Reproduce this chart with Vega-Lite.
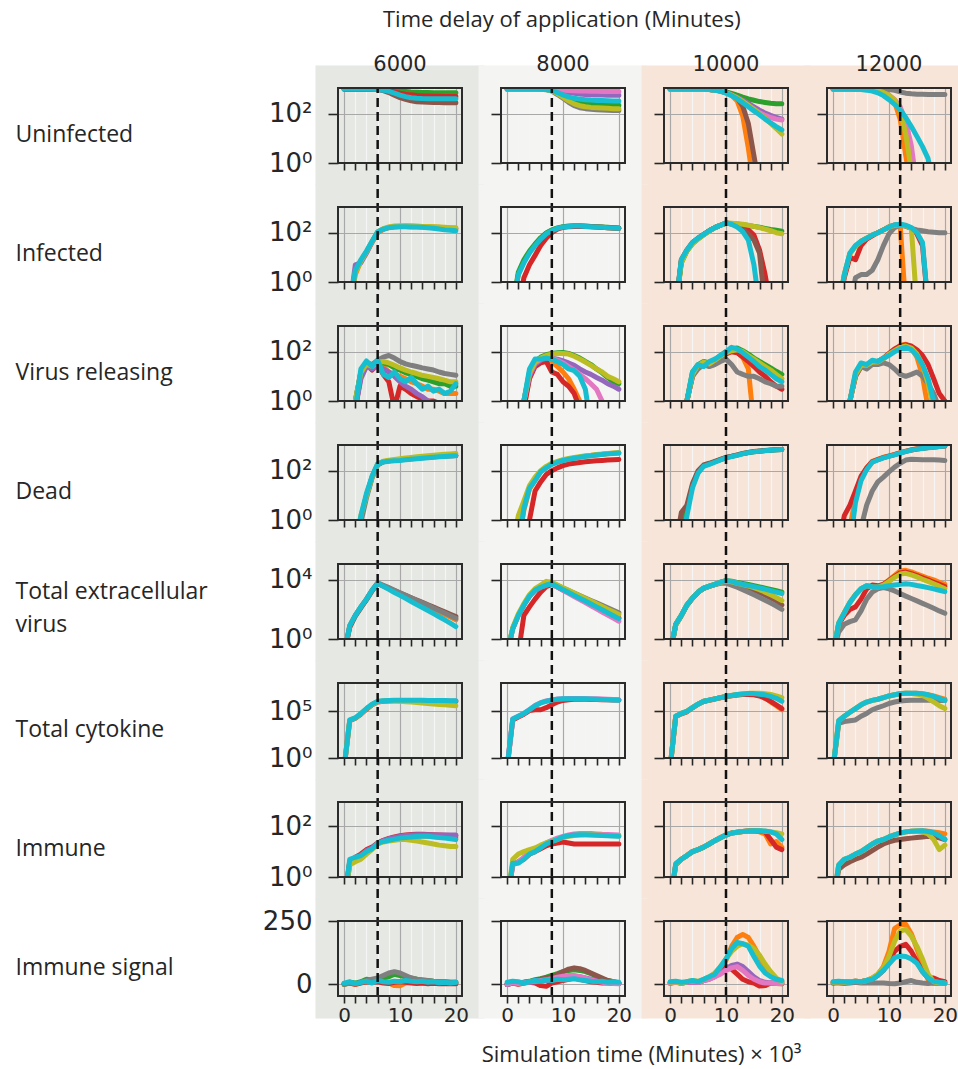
{
"$schema": "https://vega.github.io/schema/vega-lite/v6.json",
"background": "white",
"padding": {"left": -8, "top": 9, "right": 0, "bottom": 0},
"title": {"text": "Time delay of application (Minutes)", "anchor": "start", "dx": 45, "font": "Open Sans", "fontSize": 22, "offset": -1},
"datasets": {
"grid": [{"k": 1, "t": [0,1,2,3,4,5,6,7,8,9,10,11,12,13,14,15,16,17,18,19,20]}],
"runs": [
{"p":"U6","s":2,"k":1,"v":[1000,1000,1000,1000,1000,995,985,960,920,870,830,790,760,740,725,715,710,705,700,700,700]},
{"p":"U6","s":3,"k":1,"v":[1000,1000,1000,1000,995,990,970,920,850,760,680,620,580,550,530,520,510,505,500,500,500]},
{"p":"U6","s":5,"k":1,"v":[1000,1000,1000,1000,995,985,950,860,720,560,450,380,330,305,295,290,285,285,280,280,280]},
{"p":"U6","s":9,"k":1,"v":[1000,1000,1000,1000,995,985,960,900,800,680,570,490,440,420,410,405,400,400,400,400,400]},
{"p":"U8","s":2,"k":1,"v":[1000,1000,1000,1000,1000,995,985,960,880,720,560,440,350,300,270,250,240,230,225,220,220]},
{"p":"U8","s":4,"k":1,"v":[1000,1000,1000,1000,1000,1000,995,985,950,880,800,730,670,630,600,585,575,570,565,560,560]},
{"p":"U8","s":6,"k":1,"v":[1000,1000,1000,1000,1000,1000,1000,995,980,950,910,880,860,840,825,815,805,800,795,790,790]},
{"p":"U8","s":7,"k":1,"v":[1000,1000,1000,1000,1000,995,980,940,820,600,420,290,210,175,160,150,145,140,138,135,135]},
{"p":"U8","s":8,"k":1,"v":[1000,1000,1000,1000,1000,995,980,950,850,650,470,330,250,210,190,180,175,170,165,160,160]},
{"p":"U8","s":9,"k":1,"v":[1000,1000,1000,1000,1000,995,985,955,870,720,580,480,420,390,370,355,345,340,335,330,330]},
{"p":"U10","s":1,"k":1,"v":[1000,1000,1000,1000,1000,995,985,960,910,830,720,560,330,80,4,0.1,0.1,0.1,0.1,0.1,0.1]},
{"p":"U10","s":2,"k":1,"v":[1000,1000,1000,1000,1000,995,985,965,920,850,760,660,560,470,400,350,310,285,265,255,250]},
{"p":"U10","s":4,"k":1,"v":[1000,1000,1000,1000,1000,995,985,960,910,830,720,590,460,350,260,190,140,105,85,70,60]},
{"p":"U10","s":5,"k":1,"v":[1000,1000,1000,1000,1000,995,985,960,915,840,740,600,420,200,40,2,0.1,0.1,0.1,0.1,0.1]},
{"p":"U10","s":6,"k":1,"v":[1000,1000,1000,1000,1000,995,985,960,905,820,700,560,420,300,210,150,110,85,70,60,55]},
{"p":"U10","s":8,"k":1,"v":[1000,1000,1000,1000,1000,995,985,960,910,830,720,580,440,320,220,150,100,65,40,25,15]},
{"p":"U10","s":9,"k":1,"v":[1000,1000,1000,1000,1000,995,985,955,900,810,690,540,400,280,190,130,90,60,42,30,22]},
{"p":"U12","s":1,"k":1,"v":[1000,1000,1000,1000,1000,990,970,930,860,750,560,300,60,2,0.1,0.1,0.1,0.1,0.1,0.1,0.1]},
{"p":"U12","s":3,"k":1,"v":[1000,1000,1000,1000,995,985,960,910,830,700,520,330,150,30,2,0.1,0.1,0.1,0.1,0.1,0.1]},
{"p":"U12","s":6,"k":1,"v":[1000,1000,1000,1000,995,985,960,910,840,720,560,380,190,50,5,0.1,0.1,0.1,0.1,0.1,0.1]},
{"p":"U12","s":7,"k":1,"v":[1000,1000,1000,1000,1000,1000,1000,995,990,980,950,880,760,680,640,620,610,605,600,600,600]},
{"p":"U12","s":8,"k":1,"v":[1000,1000,1000,1000,1000,990,965,920,850,730,560,360,140,15,0.5,0.1,0.1,0.1,0.1,0.1,0.1]},
{"p":"U12","s":9,"k":1,"v":[1000,1000,1000,1000,990,960,900,820,700,540,370,240,145,70,30,12,4.6,1.5,0.1,0.1,0.1]},
{"p":"I6","s":1,"k":1,"v":[0.1,0.1,2,7,16,40,100,135,160,175,180,185,185,180,180,175,170,165,160,155,150]},
{"p":"I6","s":4,"k":1,"v":[0.1,0.1,5,6,15,42,105,140,165,175,180,178,175,172,170,165,160,155,150,145,140]},
{"p":"I6","s":8,"k":1,"v":[0.1,0.1,2.5,7,17,44,108,145,170,185,190,190,188,185,180,178,175,170,165,160,160]},
{"p":"I6","s":9,"k":1,"v":[0.1,0.1,3,8,18,45,110,140,160,170,175,175,170,170,165,160,150,140,130,125,120]},
{"p":"I8","s":1,"k":1,"v":[0.1,0.1,2,7,16,32,60,95,125,150,170,180,185,185,182,178,172,166,160,155,150]},
{"p":"I8","s":2,"k":1,"v":[0.1,0.1,2.5,8,18,35,62,98,130,155,175,185,190,190,186,180,175,170,165,160,155]},
{"p":"I8","s":3,"k":1,"v":[0.1,0.1,0.1,1.5,5,12,30,60,100,140,165,175,180,180,178,175,170,165,160,155,150]},
{"p":"I8","s":9,"k":1,"v":[0.1,0.1,2,6,15,30,55,90,120,150,170,180,185,185,180,175,170,165,160,155,150]},
{"p":"I10","s":2,"k":1,"v":[0.1,0.1,6,18,36,56,82,118,160,200,240,235,225,210,195,180,165,150,135,125,115]},
{"p":"I10","s":3,"k":1,"v":[0.1,0.1,7,19,38,58,84,120,160,200,245,230,200,170,130,80,20,2,0.1,0.1,0.1]},
{"p":"I10","s":5,"k":1,"v":[0.1,0.1,8,20,40,60,85,120,160,200,245,225,180,140,90,50,15,0.1,0.1,0.1,0.1]},
{"p":"I10","s":8,"k":1,"v":[0.1,0.1,6,18,35,55,80,115,160,200,240,240,230,220,200,180,160,140,120,100,90]},
{"p":"I10","s":9,"k":1,"v":[0.1,0.1,8,20,40,60,85,120,160,200,250,220,170,110,50,5,0.1,0.1,0.1,0.1,0.1]},
{"p":"I12","s":1,"k":1,"v":[0.1,0.1,2,14,28,45,60,80,100,130,170,200,200,0.1,0.1,0.1,0.1,0.1,0.1,0.1,0.1]},
{"p":"I12","s":3,"k":1,"v":[0.1,0.1,1.5,10,8,30,55,75,100,130,170,200,210,190,150,90,30,0.1,0.1,0.1,0.1]},
{"p":"I12","s":7,"k":1,"v":[0.1,0.1,0.1,0.1,1.5,2,2,3,8,30,90,160,200,180,150,130,120,110,105,100,100]},
{"p":"I12","s":8,"k":1,"v":[0.1,0.1,2,14,28,44,60,80,100,130,170,200,210,190,150,0.1,0.1,0.1,0.1,0.1,0.1]},
{"p":"I12","s":9,"k":1,"v":[0.1,0.1,2,15,30,45,60,80,100,130,170,210,220,200,160,100,40,0.1,0.1,0.1,0.1]},
{"p":"V6","s":1,"k":1,"v":[0.1,0.1,0.5,12,30,20,35,25,15,12,10,8,6,5,4,3,3,2.5,2,2,2]},
{"p":"V6","s":2,"k":1,"v":[0.1,0.1,1,15,38,28,40,35,30,22,18,14,12,10,8,7,6,5,5,4,4]},
{"p":"V6","s":3,"k":1,"v":[0.1,0.1,0.5,10,30,18,30,12,6,0.5,4,3,2,1.5,1.2,1,1,0.8,0.5,0.5,0.5]},
{"p":"V6","s":4,"k":1,"v":[0.1,0.1,0.5,8,25,20,25,20,15,10,6,4,3,2,1.5,1,0.8,0.5,0.5,0.5,0.5]},
{"p":"V6","s":7,"k":1,"v":[0.1,0.1,1,15,35,30,45,60,70,55,40,32,28,25,22,20,18,15,13,12,11]},
{"p":"V6","s":8,"k":1,"v":[0.1,0.1,1,14,32,25,38,40,35,28,22,18,15,13,11,10,9,8,7,6,6]},
{"p":"V6","s":9,"k":1,"v":[0.1,0.1,0.5,20,42,25,45,12,9,15,8,6,9,5,3,4,2.5,3,2,2.5,5]},
{"p":"V8","s":1,"k":1,"v":[0.1,0.1,0.1,0.5,10,30,45,50,40,25,15,8,3,1,0.3,0.1,0.1,0.1,0.1,0.1,0.1]},
{"p":"V8","s":2,"k":1,"v":[0.1,0.1,0.1,1,15,40,60,75,85,90,93,85,70,55,40,30,20,14,9,6,5]},
{"p":"V8","s":3,"k":1,"v":[0.1,0.1,0.1,0.5,8,25,35,40,15,12,6,4,2,0.5,0.1,0.1,0.1,0.1,0.1,0.1,0.1]},
{"p":"V8","s":4,"k":1,"v":[0.1,0.1,0.1,1,10,30,45,55,55,50,42,35,28,20,15,12,9,7,5,4,3]},
{"p":"V8","s":6,"k":1,"v":[0.1,0.1,0.1,1,12,35,50,60,55,45,35,25,18,12,8,5,3,1,0.3,0.1,0.1]},
{"p":"V8","s":8,"k":1,"v":[0.1,0.1,0.1,1,14,38,55,70,80,85,85,80,65,50,38,28,20,15,10,8,6]},
{"p":"V8","s":9,"k":1,"v":[0.1,0.1,0.1,1,20,50,50,55,50,40,30,20,17,10,3,0.1,0.1,0.1,0.1,0.1,0.1]},
{"p":"V10","s":1,"k":1,"v":[0.1,0.1,0.1,1,12,25,35,30,40,60,90,120,100,60,20,0.1,0.1,0.1,0.1,0.1,0.1]},
{"p":"V10","s":2,"k":1,"v":[0.1,0.1,0.1,1,15,30,40,35,45,70,100,130,140,110,80,55,40,30,22,16,12]},
{"p":"V10","s":3,"k":1,"v":[0.1,0.1,0.1,1,10,25,30,28,35,55,80,100,90,60,40,25,15,10,6,4,3]},
{"p":"V10","s":7,"k":1,"v":[0.1,0.1,0.1,1,10,20,30,25,30,40,50,30,15,12,10,10,8,6,5,4,4]},
{"p":"V10","s":8,"k":1,"v":[0.1,0.1,0.1,1,12,28,38,32,45,65,90,110,120,100,70,50,35,25,18,12,8]},
{"p":"V10","s":9,"k":1,"v":[0.1,0.1,0.1,1,15,30,25,40,50,70,100,150,130,90,60,40,25,18,12,8,6]},
{"p":"V12","s":1,"k":1,"v":[0.1,0.1,0.1,1,12,30,25,40,35,50,80,120,180,200,150,60,10,0.5,0.1,0.1,0.1]},
{"p":"V12","s":3,"k":1,"v":[0.1,0.1,0.1,1,10,25,30,35,40,55,85,130,170,190,170,120,70,30,8,2,1]},
{"p":"V12","s":7,"k":1,"v":[0.1,0.1,0.1,1,10,25,20,30,30,35,30,20,12,10,12,15,10,5,2,0.5,0.1]},
{"p":"V12","s":8,"k":1,"v":[0.1,0.1,0.1,1,12,28,28,38,38,52,80,110,150,170,140,80,30,5,0.5,0.1,0.1]},
{"p":"V12","s":9,"k":1,"v":[0.1,0.1,0.1,1,15,35,30,45,40,55,70,100,130,150,120,70,30,8,1,0.1,0.1]},
{"p":"D6","s":3,"k":1,"v":[0.1,0.1,0.1,1.2,10,55,180,230,250,262,275,290,305,320,335,350,365,378,390,400,410]},
{"p":"D6","s":7,"k":1,"v":[0.1,0.1,0.1,0.8,8,50,170,230,250,265,280,295,310,325,340,355,370,385,395,405,415]},
{"p":"D6","s":8,"k":1,"v":[0.1,0.1,0.1,1.5,10,55,185,240,265,285,305,325,345,365,385,405,425,445,465,480,500]},
{"p":"D6","s":9,"k":1,"v":[0.1,0.1,0.1,1.5,12,60,190,225,240,250,260,275,290,305,320,335,350,365,380,390,400]},
{"p":"D8","s":1,"k":1,"v":[0.1,0.1,0.1,2.5,18,40,90,135,185,225,265,295,325,355,385,410,435,460,485,505,525]},
{"p":"D8","s":3,"k":1,"v":[0.1,0.1,0.1,0.1,1,15,35,70,100,130,160,185,200,215,230,240,250,260,270,280,285]},
{"p":"D8","s":8,"k":1,"v":[0.1,0.1,1.5,6,25,55,100,150,200,240,280,310,340,370,400,420,450,470,500,520,540]},
{"p":"D8","s":9,"k":1,"v":[0.1,0.1,0.1,3,20,40,90,130,180,220,260,290,320,350,380,400,430,450,480,500,520]},
{"p":"D10","s":2,"k":1,"v":[0.1,0.1,0.5,3,25,90,160,190,230,280,340,380,430,490,545,590,620,650,680,705,725]},
{"p":"D10","s":5,"k":1,"v":[0.1,0.1,2,4,30,100,170,200,240,290,350,390,440,500,550,600,630,660,690,710,730]},
{"p":"D10","s":9,"k":1,"v":[0.1,0.1,0.1,1.5,20,80,150,180,220,270,330,370,420,480,540,580,610,640,670,700,720]},
{"p":"D12","s":1,"k":1,"v":[0.1,0.1,0.1,0.5,8,50,130,240,290,350,400,460,540,620,700,770,820,870,920,960,1000]},
{"p":"D12","s":3,"k":1,"v":[0.1,0.1,1.5,4,15,60,130,230,280,340,390,450,530,610,690,760,810,860,910,950,990]},
{"p":"D12","s":7,"k":1,"v":[0.1,0.1,0.1,0.1,0.1,0.5,4,15,35,55,90,140,200,270,290,285,280,280,280,270,260]},
{"p":"D12","s":9,"k":1,"v":[0.1,0.1,0.1,0.1,5,40,110,220,270,330,380,440,520,600,680,750,800,850,900,950,1000]},
{"p":"E6","s":1,"k":1,"v":[0.1,7,38,140,480,1900,5800,4000,2700,1800,1200,800,540,360,240,160,105,70,47,31,20]},
{"p":"E6","s":5,"k":1,"v":[0.1,6,35,130,450,1800,5500,3900,2700,1900,1300,900,620,430,300,210,145,100,70,48,33]},
{"p":"E6","s":7,"k":1,"v":[0.1,8,40,150,500,2000,6500,4400,3000,2000,1350,910,610,410,280,190,125,85,57,38,25]},
{"p":"E6","s":9,"k":1,"v":[0.1,8,40,150,500,2000,6000,3700,2300,1400,900,560,350,215,135,85,52,32,20,12,7]},
{"p":"E8","s":3,"k":1,"v":[0.1,0.1,0.1,40,150,500,1500,3500,5000,3300,2100,1350,870,560,360,230,150,95,62,40,26]},
{"p":"E8","s":6,"k":1,"v":[0.1,5,40,200,800,2000,3200,4500,5400,3300,2000,1250,760,470,290,180,110,68,42,26,16]},
{"p":"E8","s":7,"k":1,"v":[0.1,5,40,200,800,2000,3300,4700,6000,4100,2800,1900,1300,880,600,410,280,190,130,88,60]},
{"p":"E8","s":8,"k":1,"v":[0.1,6,50,250,1000,2600,4500,8000,7000,4600,3000,2000,1300,860,560,370,240,160,105,70,45]},
{"p":"E8","s":9,"k":1,"v":[0.1,5,40,200,800,2000,3200,4500,5500,3500,2200,1400,900,580,370,235,150,95,60,38,24]},
{"p":"E10","s":2,"k":1,"v":[0.1,10,40,200,600,1500,2800,3800,5000,7000,9000,8200,6800,5800,4900,4100,3400,2800,2300,1900,1500]},
{"p":"E10","s":5,"k":1,"v":[0.1,9,38,190,580,1450,2700,3700,4800,6500,8000,6500,5000,3800,2800,2000,1400,950,600,380,200]},
{"p":"E10","s":7,"k":1,"v":[0.1,9,38,190,580,1450,2700,3700,4800,6000,6000,4500,3200,2200,1500,1000,650,420,270,170,100]},
{"p":"E10","s":8,"k":1,"v":[0.1,9,40,200,600,1500,2800,3800,5000,6800,8500,7500,6000,4800,3800,3000,2200,1500,1000,650,400]},
{"p":"E10","s":9,"k":1,"v":[0.1,10,40,200,600,1500,2800,3800,5000,7000,9000,8000,6000,5000,4200,3500,2900,2400,1900,1500,1200]},
{"p":"E12","s":1,"k":1,"v":[0.1,12,60,300,1000,2500,4000,3500,3500,5000,10000,20000,40000,45000,35000,25000,18000,13000,10000,7000,5000]},
{"p":"E12","s":3,"k":1,"v":[0.1,10,40,100,150,500,2500,4500,4000,5000,9000,17000,30000,34000,27000,20000,14000,10000,7000,5000,3500]},
{"p":"E12","s":7,"k":1,"v":[0.1,3,10,15,20,80,500,1500,2500,3000,2500,1800,1200,800,550,380,260,180,120,80,55]},
{"p":"E12","s":8,"k":1,"v":[0.1,12,60,300,1000,2500,4000,3500,3300,4500,8000,15000,25000,28000,22000,16000,11000,8000,5500,3800,2500]},
{"p":"E12","s":9,"k":1,"v":[0.1,12,60,300,1000,2500,4000,3500,3300,3500,4000,4500,5000,5500,5000,4200,3600,3000,2500,2000,1600]},
{"p":"C6","s":3,"k":1,"v":[0.1,1e4,1.8e4,5e4,1.7e5,5e5,1e6,1.2e6,1.3e6,1.4e6,1.4e6,1.4e6,1.4e6,1.4e6,1.4e6,1.35e6,1.3e6,1.3e6,1.25e6,1.2e6,1.2e6]},
{"p":"C6","s":8,"k":1,"v":[0.1,1.1e4,2e4,5.5e4,1.9e5,5.5e5,1.1e6,1.3e6,1.3e6,1.3e6,1.2e6,1.1e6,1e6,9e5,8e5,7e5,6e5,5.5e5,5e5,4.5e5,4e5]},
{"p":"C6","s":9,"k":1,"v":[0.1,1.2e4,2e4,6e4,2e5,6e5,1.2e6,1.4e6,1.5e6,1.6e6,1.6e6,1.6e6,1.6e6,1.6e6,1.55e6,1.5e6,1.5e6,1.45e6,1.45e6,1.4e6,1.4e6]},
{"p":"C8","s":3,"k":1,"v":[0.1,1.2e4,2.5e4,5e4,1.2e5,1.5e5,1.5e5,2.5e5,5e5,1e6,1.5e6,1.8e6,2e6,2e6,2e6,1.9e6,1.9e6,1.8e6,1.8e6,1.7e6,1.7e6]},
{"p":"C8","s":6,"k":1,"v":[0.1,1.5e4,3e4,6e4,1.6e5,4.2e5,8.5e5,1.3e6,1.7e6,2.1e6,2.3e6,2.4e6,2.4e6,2.4e6,2.3e6,2.3e6,2.2e6,2.1e6,2e6,1.9e6,1.8e6]},
{"p":"C8","s":9,"k":1,"v":[0.1,1.5e4,3e4,6e4,1.5e5,4e5,8e5,1.2e6,1.6e6,2e6,2.2e6,2.3e6,2.3e6,2.3e6,2.2e6,2.1e6,2e6,1.9e6,1.8e6,1.7e6,1.6e6]},
{"p":"C10","s":1,"k":1,"v":[0.1,3e4,6e4,1e5,2.5e5,6e5,1.2e6,1.6e6,2.2e6,3e6,4e6,5e6,6e6,7e6,7e6,6.5e6,5e6,3e6,1e6,4e5,1.5e5]},
{"p":"C10","s":3,"k":1,"v":[0.1,2.8e4,5.5e4,9e4,2.4e5,5.8e5,1.15e6,1.55e6,2.1e6,2.9e6,3.8e6,4.8e6,5.8e6,6.5e6,6.5e6,6e6,4.5e6,2.5e6,1.2e6,5e5,2e5]},
{"p":"C10","s":8,"k":1,"v":[0.1,3e4,6e4,1e5,2.5e5,6e5,1.2e6,1.6e6,2.2e6,3e6,4e6,5e6,6.5e6,7.5e6,8.5e6,9e6,9e6,8e6,6.5e6,4.5e6,3e6]},
{"p":"C10","s":9,"k":1,"v":[0.1,3e4,6e4,1e5,2.5e5,6e5,1.2e6,1.6e6,2.2e6,3e6,4e6,5e6,6.5e6,7.5e6,8e6,8e6,7e6,6e6,4e6,2.5e6,1.2e6]},
{"p":"C12","s":1,"k":1,"v":[0.1,1e4,3e4,8e4,2e5,5e5,1e6,1.5e6,2e6,3e6,4.5e6,6e6,8e6,9e6,9e6,8.5e6,7.5e6,6e6,4.5e6,3e6,2e6]},
{"p":"C12","s":7,"k":1,"v":[0.1,5e3,8e3,1e4,1.2e4,3e4,6e4,1.5e5,2.5e5,4e5,7e5,1e6,1.3e6,1.5e6,1.6e6,1.6e6,1.6e6,1.6e6,1.6e6,1.5e6,1.5e6]},
{"p":"C12","s":8,"k":1,"v":[0.1,1e4,3e4,8e4,2e5,5e5,1e6,1.5e6,2e6,3e6,4.5e6,6e6,8e6,8.5e6,8e6,7e6,5e6,2.5e6,1e6,4e5,2e5]},
{"p":"C12","s":9,"k":1,"v":[0.1,1e4,3e4,8e4,2e5,5e5,1e6,1.5e6,2e6,3e6,4.5e6,6e6,8e6,9e6,9e6,9e6,8e6,6e6,4e6,2.5e6,1.5e6]},
{"p":"M6","s":1,"k":1,"v":[0.1,4,5,7,10,13,20,26,30,34,37,39,40,41,41,40,39,38,37,36,35]},
{"p":"M6","s":3,"k":1,"v":[0.1,4,6,8,12,15,22,28,33,38,42,45,47,48,48,47,46,45,44,43,42]},
{"p":"M6","s":4,"k":1,"v":[0.1,3,5,7,11,14,21,27,32,36,40,43,45,46,46,46,45,45,45,45,45]},
{"p":"M6","s":8,"k":1,"v":[0.1,3,4,5,8,12,20,24,26,28,30,30,28,26,24,22,20,18,17,16,16]},
{"p":"M6","s":9,"k":1,"v":[0.1,5,6,7,10,13,21,25,28,31,34,36,38,39,40,40,38,36,34,32,30]},
{"p":"M8","s":3,"k":1,"v":[0.1,3,4,5,8,10,13,17,20,22,24,22,20,20,20,20,20,20,20,20,20]},
{"p":"M8","s":6,"k":1,"v":[0.1,3,4,6,9,12,16,22,28,34,40,45,50,52,52,52,50,48,47,46,45]},
{"p":"M8","s":8,"k":1,"v":[0.1,5,8,10,12,14,18,22,26,30,36,40,43,45,46,46,45,44,43,42,41]},
{"p":"M8","s":9,"k":1,"v":[0.1,3.5,3.5,5,8,10,14,20,25,30,38,42,45,46,46,45,44,43,42,41,40]},
{"p":"M10","s":1,"k":1,"v":[0.1,3,5,7,10,12,15,20,27,35,45,54,58,62,65,66,60,50,20,25,15]},
{"p":"M10","s":3,"k":1,"v":[0.1,3,5,7,10,12,15,20,27,35,45,54,58,62,65,66,65,60,30,15,12]},
{"p":"M10","s":8,"k":1,"v":[0.1,3,5,7,10,12,15,20,27,35,45,54,58,62,65,66,66,64,60,55,50]},
{"p":"M10","s":9,"k":1,"v":[0.1,3.4,5,7,10,12,15,20,27,35,45,54,58,62,65,66,66,65,60,50,30]},
{"p":"M12","s":1,"k":1,"v":[0.1,3,5,6,8,10,14,20,26,30,38,46,54,60,64,65,66,64,60,55,50]},
{"p":"M12","s":5,"k":1,"v":[0.1,2,3,4,5,6,8,11,15,20,24,28,30,32,34,36,38,40,38,35,30]},
{"p":"M12","s":8,"k":1,"v":[0.1,3,5,6,8,10,14,20,26,30,38,46,54,60,64,65,60,50,30,12,18]},
{"p":"M12","s":9,"k":1,"v":[0.1,3,5,6,8,10,14,20,26,30,38,46,54,60,64,65,66,62,55,42,30]},
{"p":"S6","s":1,"k":1,"v":[0,5,0,5,10,10,12,8,5,-5,-6,5,8,5,5,3,5,3,5,3,3]},
{"p":"S6","s":2,"k":1,"v":[0,8,5,10,20,15,20,25,30,40,35,30,25,20,15,15,12,10,10,8,8]},
{"p":"S6","s":3,"k":1,"v":[2,5,0,6,10,8,10,5,3,8,10,8,5,3,5,2,4,2,3,2,2]},
{"p":"S6","s":7,"k":1,"v":[0,5,2,8,15,20,25,35,45,50,45,35,25,20,18,15,12,10,10,8,8]},
{"p":"S6","s":9,"k":1,"v":[5,10,3,8,12,5,15,10,8,12,10,15,12,10,12,8,10,6,8,5,8]},
{"p":"S8","s":2,"k":1,"v":[0,8,5,8,12,18,22,28,35,42,50,55,58,55,50,42,32,22,15,10,6]},
{"p":"S8","s":3,"k":1,"v":[0,5,0,5,8,5,-5,-8,5,10,15,20,25,20,15,10,8,5,5,3,3]},
{"p":"S8","s":4,"k":1,"v":[0,5,3,6,8,10,12,15,20,25,28,30,32,30,25,20,15,10,8,5,3]},
{"p":"S8","s":5,"k":1,"v":[0,5,5,8,10,15,20,25,30,40,50,60,65,62,55,45,35,25,15,10,5]},
{"p":"S8","s":6,"k":1,"v":[0,6,3,6,9,12,15,18,22,28,32,35,35,30,25,18,12,8,5,3,2]},
{"p":"S8","s":9,"k":1,"v":[8,12,10,5,10,15,12,18,15,20,18,20,22,18,15,12,10,12,8,10,8]},
{"p":"S10","s":1,"k":1,"v":[8,10,5,8,12,10,18,25,35,60,95,150,185,197,185,150,110,70,40,20,10]},
{"p":"S10","s":3,"k":1,"v":[5,8,5,8,10,8,15,25,35,55,70,60,40,20,10,5,-7,-5,5,3,2]},
{"p":"S10","s":4,"k":1,"v":[5,8,5,8,10,8,15,20,30,45,60,75,80,70,50,30,15,8,5,5,5]},
{"p":"S10","s":6,"k":1,"v":[5,8,5,8,10,8,15,20,30,40,55,65,70,55,35,20,10,5,5,3,3]},
{"p":"S10","s":8,"k":1,"v":[8,10,5,10,15,12,20,30,45,70,100,130,150,160,155,140,115,80,50,25,10]},
{"p":"S10","s":9,"k":1,"v":[10,12,8,10,15,10,20,30,40,70,100,140,165,160,150,110,72,45,30,20,15]},
{"p":"S12","s":1,"k":1,"v":[8,10,8,10,12,10,15,25,40,70,130,220,235,237,200,140,80,20,5,5,5]},
{"p":"S12","s":3,"k":1,"v":[5,10,8,10,12,10,15,20,35,55,90,130,150,158,130,90,50,25,25,15,10]},
{"p":"S12","s":7,"k":1,"v":[5,5,3,5,8,5,5,5,5,5,3,2,5,10,15,8,5,3,5,3,3]},
{"p":"S12","s":8,"k":1,"v":[8,10,8,10,12,10,15,25,40,65,110,170,210,217,190,150,100,40,10,5,5]},
{"p":"S12","s":9,"k":1,"v":[10,12,10,8,12,10,15,20,35,55,80,105,112,110,100,83,50,25,12,8,5]}
]
},
"data": {"name": "runs"},
"transform": [
{"lookup": "k", "from": {"data": {"name": "grid"}, "key": "k", "fields": ["t"]}},
{"flatten": ["t", "v"]}
],
"columns": 4,
"spacing": {"row": 44, "column": 39},
"bounds": "flush",
"concat": [
{"title":"6000","width":124,"height":75,"view":{"fill":"#e6e8e3","stroke":"#e6e8e3"},"layer":[{"transform":[{"filter":"datum.p=='U6'"}],"mark":{"type":"line","clip":true},"encoding":{"x":{"field":"t","type":"quantitative","scale":{"domain":[-1.1,21.1],"nice":false},"axis":{"title":null,"gridColor":{"condition":{"test":"datum.value%10===0","value":"#a8a8a8"},"value":"#f5f5f5"}}},"y":{"field":"v","type":"quantitative","scale":{"type":"log","domain":[1,1100],"nice":false},"axis":{"values":[1,100],"labelExpr":"datum.value>1?'10²':'10⁰'","title":"Uninfected"}},"color":{"field":"s","type":"nominal","scale":{"domain":[0,1,2,3,4,5,6,7,8,9]}}}},{"data":{"values":[{}]},"mark":"rule","encoding":{"x":{"datum":6},"y":{"datum":1},"y2":{"datum":1100}}},{"data":{"values":[{}]},"mark":{"type":"rect","filled":false},"encoding":{"x":{"datum":-1.1},"x2":{"datum":21.1},"y":{"datum":1},"y2":{"datum":1100}}}]},
{"title":"8000","width":124,"height":75,"view":{"fill":"#f4f4f3","stroke":"#f4f4f3"},"layer":[{"transform":[{"filter":"datum.p=='U8'"}],"mark":{"type":"line","clip":true},"encoding":{"x":{"field":"t","type":"quantitative","scale":{"domain":[-1.1,21.1],"nice":false},"axis":{"title":null,"gridColor":{"condition":{"test":"datum.value%10===0","value":"#a8a8a8"},"value":"#f5f5f5"}}},"y":{"field":"v","type":"quantitative","scale":{"type":"log","domain":[1,1100],"nice":false},"axis":{"values":[1,100],"labels":false,"title":null}},"color":{"field":"s","type":"nominal","scale":{"domain":[0,1,2,3,4,5,6,7,8,9]}}}},{"data":{"values":[{}]},"mark":"rule","encoding":{"x":{"datum":8},"y":{"datum":1},"y2":{"datum":1100}}},{"data":{"values":[{}]},"mark":{"type":"rect","filled":false},"encoding":{"x":{"datum":-1.1},"x2":{"datum":21.1},"y":{"datum":1},"y2":{"datum":1100}}}]},
{"title":"10000","width":124,"height":75,"view":{"fill":"#f7e5d9","stroke":"#f7e5d9"},"layer":[{"transform":[{"filter":"datum.p=='U10'"}],"mark":{"type":"line","clip":true},"encoding":{"x":{"field":"t","type":"quantitative","scale":{"domain":[-1.1,21.1],"nice":false},"axis":{"title":null,"gridColor":{"condition":{"test":"datum.value%10===0","value":"#a8a8a8"},"value":"#f5f5f5"}}},"y":{"field":"v","type":"quantitative","scale":{"type":"log","domain":[1,1100],"nice":false},"axis":{"values":[1,100],"labels":false,"title":null}},"color":{"field":"s","type":"nominal","scale":{"domain":[0,1,2,3,4,5,6,7,8,9]}}}},{"data":{"values":[{}]},"mark":"rule","encoding":{"x":{"datum":10},"y":{"datum":1},"y2":{"datum":1100}}},{"data":{"values":[{}]},"mark":{"type":"rect","filled":false},"encoding":{"x":{"datum":-1.1},"x2":{"datum":21.1},"y":{"datum":1},"y2":{"datum":1100}}}]},
{"title":"12000","width":124,"height":75,"view":{"fill":"#f7e5d9","stroke":"#f7e5d9"},"layer":[{"transform":[{"filter":"datum.p=='U12'"}],"mark":{"type":"line","clip":true},"encoding":{"x":{"field":"t","type":"quantitative","scale":{"domain":[-1.1,21.1],"nice":false},"axis":{"title":null,"gridColor":{"condition":{"test":"datum.value%10===0","value":"#a8a8a8"},"value":"#f5f5f5"}}},"y":{"field":"v","type":"quantitative","scale":{"type":"log","domain":[1,1100],"nice":false},"axis":{"values":[1,100],"labels":false,"title":null}},"color":{"field":"s","type":"nominal","scale":{"domain":[0,1,2,3,4,5,6,7,8,9]}}}},{"data":{"values":[{}]},"mark":"rule","encoding":{"x":{"datum":12},"y":{"datum":1},"y2":{"datum":1100}}},{"data":{"values":[{}]},"mark":{"type":"rect","filled":false},"encoding":{"x":{"datum":-1.1},"x2":{"datum":21.1},"y":{"datum":1},"y2":{"datum":1100}}}]},
{"width":124,"height":75,"view":{"fill":"#e6e8e3","stroke":"#e6e8e3"},"layer":[{"transform":[{"filter":"datum.p=='I6'"}],"mark":{"type":"line","clip":true},"encoding":{"x":{"field":"t","type":"quantitative","scale":{"domain":[-1.1,21.1],"nice":false},"axis":{"title":null,"gridColor":{"condition":{"test":"datum.value%10===0","value":"#a8a8a8"},"value":"#f5f5f5"}}},"y":{"field":"v","type":"quantitative","scale":{"type":"log","domain":[1,1100],"nice":false},"axis":{"values":[1,100],"labelExpr":"datum.value>1?'10²':'10⁰'","title":"Infected"}},"color":{"field":"s","type":"nominal","scale":{"domain":[0,1,2,3,4,5,6,7,8,9]}}}},{"data":{"values":[{}]},"mark":"rule","encoding":{"x":{"datum":6},"y":{"datum":1},"y2":{"datum":7e4}}},{"data":{"values":[{}]},"mark":{"type":"rect","filled":false},"encoding":{"x":{"datum":-1.1},"x2":{"datum":21.1},"y":{"datum":1},"y2":{"datum":1100}}}]},
{"width":124,"height":75,"view":{"fill":"#f4f4f3","stroke":"#f4f4f3"},"layer":[{"transform":[{"filter":"datum.p=='I8'"}],"mark":{"type":"line","clip":true},"encoding":{"x":{"field":"t","type":"quantitative","scale":{"domain":[-1.1,21.1],"nice":false},"axis":{"title":null,"gridColor":{"condition":{"test":"datum.value%10===0","value":"#a8a8a8"},"value":"#f5f5f5"}}},"y":{"field":"v","type":"quantitative","scale":{"type":"log","domain":[1,1100],"nice":false},"axis":{"values":[1,100],"labels":false,"title":null}},"color":{"field":"s","type":"nominal","scale":{"domain":[0,1,2,3,4,5,6,7,8,9]}}}},{"data":{"values":[{}]},"mark":"rule","encoding":{"x":{"datum":8},"y":{"datum":1},"y2":{"datum":7e4}}},{"data":{"values":[{}]},"mark":{"type":"rect","filled":false},"encoding":{"x":{"datum":-1.1},"x2":{"datum":21.1},"y":{"datum":1},"y2":{"datum":1100}}}]},
{"width":124,"height":75,"view":{"fill":"#f7e5d9","stroke":"#f7e5d9"},"layer":[{"transform":[{"filter":"datum.p=='I10'"}],"mark":{"type":"line","clip":true},"encoding":{"x":{"field":"t","type":"quantitative","scale":{"domain":[-1.1,21.1],"nice":false},"axis":{"title":null,"gridColor":{"condition":{"test":"datum.value%10===0","value":"#a8a8a8"},"value":"#f5f5f5"}}},"y":{"field":"v","type":"quantitative","scale":{"type":"log","domain":[1,1100],"nice":false},"axis":{"values":[1,100],"labels":false,"title":null}},"color":{"field":"s","type":"nominal","scale":{"domain":[0,1,2,3,4,5,6,7,8,9]}}}},{"data":{"values":[{}]},"mark":"rule","encoding":{"x":{"datum":10},"y":{"datum":1},"y2":{"datum":7e4}}},{"data":{"values":[{}]},"mark":{"type":"rect","filled":false},"encoding":{"x":{"datum":-1.1},"x2":{"datum":21.1},"y":{"datum":1},"y2":{"datum":1100}}}]},
{"width":124,"height":75,"view":{"fill":"#f7e5d9","stroke":"#f7e5d9"},"layer":[{"transform":[{"filter":"datum.p=='I12'"}],"mark":{"type":"line","clip":true},"encoding":{"x":{"field":"t","type":"quantitative","scale":{"domain":[-1.1,21.1],"nice":false},"axis":{"title":null,"gridColor":{"condition":{"test":"datum.value%10===0","value":"#a8a8a8"},"value":"#f5f5f5"}}},"y":{"field":"v","type":"quantitative","scale":{"type":"log","domain":[1,1100],"nice":false},"axis":{"values":[1,100],"labels":false,"title":null}},"color":{"field":"s","type":"nominal","scale":{"domain":[0,1,2,3,4,5,6,7,8,9]}}}},{"data":{"values":[{}]},"mark":"rule","encoding":{"x":{"datum":12},"y":{"datum":1},"y2":{"datum":7e4}}},{"data":{"values":[{}]},"mark":{"type":"rect","filled":false},"encoding":{"x":{"datum":-1.1},"x2":{"datum":21.1},"y":{"datum":1},"y2":{"datum":1100}}}]},
{"width":124,"height":75,"view":{"fill":"#e6e8e3","stroke":"#e6e8e3"},"layer":[{"transform":[{"filter":"datum.p=='V6'"}],"mark":{"type":"line","clip":true},"encoding":{"x":{"field":"t","type":"quantitative","scale":{"domain":[-1.1,21.1],"nice":false},"axis":{"title":null,"gridColor":{"condition":{"test":"datum.value%10===0","value":"#a8a8a8"},"value":"#f5f5f5"}}},"y":{"field":"v","type":"quantitative","scale":{"type":"log","domain":[1,1100],"nice":false},"axis":{"values":[1,100],"labelExpr":"datum.value>1?'10²':'10⁰'","title":"Virus releasing"}},"color":{"field":"s","type":"nominal","scale":{"domain":[0,1,2,3,4,5,6,7,8,9]}}}},{"data":{"values":[{}]},"mark":"rule","encoding":{"x":{"datum":6},"y":{"datum":1},"y2":{"datum":7e4}}},{"data":{"values":[{}]},"mark":{"type":"rect","filled":false},"encoding":{"x":{"datum":-1.1},"x2":{"datum":21.1},"y":{"datum":1},"y2":{"datum":1100}}}]},
{"width":124,"height":75,"view":{"fill":"#f4f4f3","stroke":"#f4f4f3"},"layer":[{"transform":[{"filter":"datum.p=='V8'"}],"mark":{"type":"line","clip":true},"encoding":{"x":{"field":"t","type":"quantitative","scale":{"domain":[-1.1,21.1],"nice":false},"axis":{"title":null,"gridColor":{"condition":{"test":"datum.value%10===0","value":"#a8a8a8"},"value":"#f5f5f5"}}},"y":{"field":"v","type":"quantitative","scale":{"type":"log","domain":[1,1100],"nice":false},"axis":{"values":[1,100],"labels":false,"title":null}},"color":{"field":"s","type":"nominal","scale":{"domain":[0,1,2,3,4,5,6,7,8,9]}}}},{"data":{"values":[{}]},"mark":"rule","encoding":{"x":{"datum":8},"y":{"datum":1},"y2":{"datum":7e4}}},{"data":{"values":[{}]},"mark":{"type":"rect","filled":false},"encoding":{"x":{"datum":-1.1},"x2":{"datum":21.1},"y":{"datum":1},"y2":{"datum":1100}}}]},
{"width":124,"height":75,"view":{"fill":"#f7e5d9","stroke":"#f7e5d9"},"layer":[{"transform":[{"filter":"datum.p=='V10'"}],"mark":{"type":"line","clip":true},"encoding":{"x":{"field":"t","type":"quantitative","scale":{"domain":[-1.1,21.1],"nice":false},"axis":{"title":null,"gridColor":{"condition":{"test":"datum.value%10===0","value":"#a8a8a8"},"value":"#f5f5f5"}}},"y":{"field":"v","type":"quantitative","scale":{"type":"log","domain":[1,1100],"nice":false},"axis":{"values":[1,100],"labels":false,"title":null}},"color":{"field":"s","type":"nominal","scale":{"domain":[0,1,2,3,4,5,6,7,8,9]}}}},{"data":{"values":[{}]},"mark":"rule","encoding":{"x":{"datum":10},"y":{"datum":1},"y2":{"datum":7e4}}},{"data":{"values":[{}]},"mark":{"type":"rect","filled":false},"encoding":{"x":{"datum":-1.1},"x2":{"datum":21.1},"y":{"datum":1},"y2":{"datum":1100}}}]},
{"width":124,"height":75,"view":{"fill":"#f7e5d9","stroke":"#f7e5d9"},"layer":[{"transform":[{"filter":"datum.p=='V12'"}],"mark":{"type":"line","clip":true},"encoding":{"x":{"field":"t","type":"quantitative","scale":{"domain":[-1.1,21.1],"nice":false},"axis":{"title":null,"gridColor":{"condition":{"test":"datum.value%10===0","value":"#a8a8a8"},"value":"#f5f5f5"}}},"y":{"field":"v","type":"quantitative","scale":{"type":"log","domain":[1,1100],"nice":false},"axis":{"values":[1,100],"labels":false,"title":null}},"color":{"field":"s","type":"nominal","scale":{"domain":[0,1,2,3,4,5,6,7,8,9]}}}},{"data":{"values":[{}]},"mark":"rule","encoding":{"x":{"datum":12},"y":{"datum":1},"y2":{"datum":7e4}}},{"data":{"values":[{}]},"mark":{"type":"rect","filled":false},"encoding":{"x":{"datum":-1.1},"x2":{"datum":21.1},"y":{"datum":1},"y2":{"datum":1100}}}]},
{"width":124,"height":75,"view":{"fill":"#e6e8e3","stroke":"#e6e8e3"},"layer":[{"transform":[{"filter":"datum.p=='D6'"}],"mark":{"type":"line","clip":true},"encoding":{"x":{"field":"t","type":"quantitative","scale":{"domain":[-1.1,21.1],"nice":false},"axis":{"title":null,"gridColor":{"condition":{"test":"datum.value%10===0","value":"#a8a8a8"},"value":"#f5f5f5"}}},"y":{"field":"v","type":"quantitative","scale":{"type":"log","domain":[1,1100],"nice":false},"axis":{"values":[1,100],"labelExpr":"datum.value>1?'10²':'10⁰'","title":"Dead"}},"color":{"field":"s","type":"nominal","scale":{"domain":[0,1,2,3,4,5,6,7,8,9]}}}},{"data":{"values":[{}]},"mark":"rule","encoding":{"x":{"datum":6},"y":{"datum":1},"y2":{"datum":7e4}}},{"data":{"values":[{}]},"mark":{"type":"rect","filled":false},"encoding":{"x":{"datum":-1.1},"x2":{"datum":21.1},"y":{"datum":1},"y2":{"datum":1100}}}]},
{"width":124,"height":75,"view":{"fill":"#f4f4f3","stroke":"#f4f4f3"},"layer":[{"transform":[{"filter":"datum.p=='D8'"}],"mark":{"type":"line","clip":true},"encoding":{"x":{"field":"t","type":"quantitative","scale":{"domain":[-1.1,21.1],"nice":false},"axis":{"title":null,"gridColor":{"condition":{"test":"datum.value%10===0","value":"#a8a8a8"},"value":"#f5f5f5"}}},"y":{"field":"v","type":"quantitative","scale":{"type":"log","domain":[1,1100],"nice":false},"axis":{"values":[1,100],"labels":false,"title":null}},"color":{"field":"s","type":"nominal","scale":{"domain":[0,1,2,3,4,5,6,7,8,9]}}}},{"data":{"values":[{}]},"mark":"rule","encoding":{"x":{"datum":8},"y":{"datum":1},"y2":{"datum":7e4}}},{"data":{"values":[{}]},"mark":{"type":"rect","filled":false},"encoding":{"x":{"datum":-1.1},"x2":{"datum":21.1},"y":{"datum":1},"y2":{"datum":1100}}}]},
{"width":124,"height":75,"view":{"fill":"#f7e5d9","stroke":"#f7e5d9"},"layer":[{"transform":[{"filter":"datum.p=='D10'"}],"mark":{"type":"line","clip":true},"encoding":{"x":{"field":"t","type":"quantitative","scale":{"domain":[-1.1,21.1],"nice":false},"axis":{"title":null,"gridColor":{"condition":{"test":"datum.value%10===0","value":"#a8a8a8"},"value":"#f5f5f5"}}},"y":{"field":"v","type":"quantitative","scale":{"type":"log","domain":[1,1100],"nice":false},"axis":{"values":[1,100],"labels":false,"title":null}},"color":{"field":"s","type":"nominal","scale":{"domain":[0,1,2,3,4,5,6,7,8,9]}}}},{"data":{"values":[{}]},"mark":"rule","encoding":{"x":{"datum":10},"y":{"datum":1},"y2":{"datum":7e4}}},{"data":{"values":[{}]},"mark":{"type":"rect","filled":false},"encoding":{"x":{"datum":-1.1},"x2":{"datum":21.1},"y":{"datum":1},"y2":{"datum":1100}}}]},
{"width":124,"height":75,"view":{"fill":"#f7e5d9","stroke":"#f7e5d9"},"layer":[{"transform":[{"filter":"datum.p=='D12'"}],"mark":{"type":"line","clip":true},"encoding":{"x":{"field":"t","type":"quantitative","scale":{"domain":[-1.1,21.1],"nice":false},"axis":{"title":null,"gridColor":{"condition":{"test":"datum.value%10===0","value":"#a8a8a8"},"value":"#f5f5f5"}}},"y":{"field":"v","type":"quantitative","scale":{"type":"log","domain":[1,1100],"nice":false},"axis":{"values":[1,100],"labels":false,"title":null}},"color":{"field":"s","type":"nominal","scale":{"domain":[0,1,2,3,4,5,6,7,8,9]}}}},{"data":{"values":[{}]},"mark":"rule","encoding":{"x":{"datum":12},"y":{"datum":1},"y2":{"datum":7e4}}},{"data":{"values":[{}]},"mark":{"type":"rect","filled":false},"encoding":{"x":{"datum":-1.1},"x2":{"datum":21.1},"y":{"datum":1},"y2":{"datum":1100}}}]},
{"width":124,"height":75,"view":{"fill":"#e6e8e3","stroke":"#e6e8e3"},"layer":[{"transform":[{"filter":"datum.p=='E6'"}],"mark":{"type":"line","clip":true},"encoding":{"x":{"field":"t","type":"quantitative","scale":{"domain":[-1.1,21.1],"nice":false},"axis":{"title":null,"gridColor":{"condition":{"test":"datum.value%10===0","value":"#a8a8a8"},"value":"#f5f5f5"}}},"y":{"field":"v","type":"quantitative","scale":{"type":"log","domain":[1,1.2e5],"nice":false},"axis":{"values":[1,1e4],"labelExpr":"datum.value>1?'10⁴':'10⁰'","title":["Total extracellular","virus"],"titleY":27,"titleLineHeight":33}},"color":{"field":"s","type":"nominal","scale":{"domain":[0,1,2,3,4,5,6,7,8,9]}}}},{"data":{"values":[{}]},"mark":"rule","encoding":{"x":{"datum":6},"y":{"datum":1},"y2":{"datum":1.2e8}}},{"data":{"values":[{}]},"mark":{"type":"rect","filled":false},"encoding":{"x":{"datum":-1.1},"x2":{"datum":21.1},"y":{"datum":1},"y2":{"datum":1.2e5}}}]},
{"width":124,"height":75,"view":{"fill":"#f4f4f3","stroke":"#f4f4f3"},"layer":[{"transform":[{"filter":"datum.p=='E8'"}],"mark":{"type":"line","clip":true},"encoding":{"x":{"field":"t","type":"quantitative","scale":{"domain":[-1.1,21.1],"nice":false},"axis":{"title":null,"gridColor":{"condition":{"test":"datum.value%10===0","value":"#a8a8a8"},"value":"#f5f5f5"}}},"y":{"field":"v","type":"quantitative","scale":{"type":"log","domain":[1,1.2e5],"nice":false},"axis":{"values":[1,1e4],"labels":false,"title":null}},"color":{"field":"s","type":"nominal","scale":{"domain":[0,1,2,3,4,5,6,7,8,9]}}}},{"data":{"values":[{}]},"mark":"rule","encoding":{"x":{"datum":8},"y":{"datum":1},"y2":{"datum":1.2e8}}},{"data":{"values":[{}]},"mark":{"type":"rect","filled":false},"encoding":{"x":{"datum":-1.1},"x2":{"datum":21.1},"y":{"datum":1},"y2":{"datum":1.2e5}}}]},
{"width":124,"height":75,"view":{"fill":"#f7e5d9","stroke":"#f7e5d9"},"layer":[{"transform":[{"filter":"datum.p=='E10'"}],"mark":{"type":"line","clip":true},"encoding":{"x":{"field":"t","type":"quantitative","scale":{"domain":[-1.1,21.1],"nice":false},"axis":{"title":null,"gridColor":{"condition":{"test":"datum.value%10===0","value":"#a8a8a8"},"value":"#f5f5f5"}}},"y":{"field":"v","type":"quantitative","scale":{"type":"log","domain":[1,1.2e5],"nice":false},"axis":{"values":[1,1e4],"labels":false,"title":null}},"color":{"field":"s","type":"nominal","scale":{"domain":[0,1,2,3,4,5,6,7,8,9]}}}},{"data":{"values":[{}]},"mark":"rule","encoding":{"x":{"datum":10},"y":{"datum":1},"y2":{"datum":1.2e8}}},{"data":{"values":[{}]},"mark":{"type":"rect","filled":false},"encoding":{"x":{"datum":-1.1},"x2":{"datum":21.1},"y":{"datum":1},"y2":{"datum":1.2e5}}}]},
{"width":124,"height":75,"view":{"fill":"#f7e5d9","stroke":"#f7e5d9"},"layer":[{"transform":[{"filter":"datum.p=='E12'"}],"mark":{"type":"line","clip":true},"encoding":{"x":{"field":"t","type":"quantitative","scale":{"domain":[-1.1,21.1],"nice":false},"axis":{"title":null,"gridColor":{"condition":{"test":"datum.value%10===0","value":"#a8a8a8"},"value":"#f5f5f5"}}},"y":{"field":"v","type":"quantitative","scale":{"type":"log","domain":[1,1.2e5],"nice":false},"axis":{"values":[1,1e4],"labels":false,"title":null}},"color":{"field":"s","type":"nominal","scale":{"domain":[0,1,2,3,4,5,6,7,8,9]}}}},{"data":{"values":[{}]},"mark":"rule","encoding":{"x":{"datum":12},"y":{"datum":1},"y2":{"datum":1.2e8}}},{"data":{"values":[{}]},"mark":{"type":"rect","filled":false},"encoding":{"x":{"datum":-1.1},"x2":{"datum":21.1},"y":{"datum":1},"y2":{"datum":1.2e5}}}]},
{"width":124,"height":75,"view":{"fill":"#e6e8e3","stroke":"#e6e8e3"},"layer":[{"transform":[{"filter":"datum.p=='C6'"}],"mark":{"type":"line","clip":true},"encoding":{"x":{"field":"t","type":"quantitative","scale":{"domain":[-1.1,21.1],"nice":false},"axis":{"title":null,"gridColor":{"condition":{"test":"datum.value%10===0","value":"#a8a8a8"},"value":"#f5f5f5"}}},"y":{"field":"v","type":"quantitative","scale":{"type":"log","domain":[1,1.1e8],"nice":false},"axis":{"values":[1,1e5],"labelExpr":"datum.value>1?'10⁵':'10⁰'","title":"Total cytokine"}},"color":{"field":"s","type":"nominal","scale":{"domain":[0,1,2,3,4,5,6,7,8,9]}}}},{"data":{"values":[{}]},"mark":"rule","encoding":{"x":{"datum":6},"y":{"datum":1},"y2":{"datum":6e12}}},{"data":{"values":[{}]},"mark":{"type":"rect","filled":false},"encoding":{"x":{"datum":-1.1},"x2":{"datum":21.1},"y":{"datum":1},"y2":{"datum":1.1e8}}}]},
{"width":124,"height":75,"view":{"fill":"#f4f4f3","stroke":"#f4f4f3"},"layer":[{"transform":[{"filter":"datum.p=='C8'"}],"mark":{"type":"line","clip":true},"encoding":{"x":{"field":"t","type":"quantitative","scale":{"domain":[-1.1,21.1],"nice":false},"axis":{"title":null,"gridColor":{"condition":{"test":"datum.value%10===0","value":"#a8a8a8"},"value":"#f5f5f5"}}},"y":{"field":"v","type":"quantitative","scale":{"type":"log","domain":[1,1.1e8],"nice":false},"axis":{"values":[1,1e5],"labels":false,"title":null}},"color":{"field":"s","type":"nominal","scale":{"domain":[0,1,2,3,4,5,6,7,8,9]}}}},{"data":{"values":[{}]},"mark":"rule","encoding":{"x":{"datum":8},"y":{"datum":1},"y2":{"datum":6e12}}},{"data":{"values":[{}]},"mark":{"type":"rect","filled":false},"encoding":{"x":{"datum":-1.1},"x2":{"datum":21.1},"y":{"datum":1},"y2":{"datum":1.1e8}}}]},
{"width":124,"height":75,"view":{"fill":"#f7e5d9","stroke":"#f7e5d9"},"layer":[{"transform":[{"filter":"datum.p=='C10'"}],"mark":{"type":"line","clip":true},"encoding":{"x":{"field":"t","type":"quantitative","scale":{"domain":[-1.1,21.1],"nice":false},"axis":{"title":null,"gridColor":{"condition":{"test":"datum.value%10===0","value":"#a8a8a8"},"value":"#f5f5f5"}}},"y":{"field":"v","type":"quantitative","scale":{"type":"log","domain":[1,1.1e8],"nice":false},"axis":{"values":[1,1e5],"labels":false,"title":null}},"color":{"field":"s","type":"nominal","scale":{"domain":[0,1,2,3,4,5,6,7,8,9]}}}},{"data":{"values":[{}]},"mark":"rule","encoding":{"x":{"datum":10},"y":{"datum":1},"y2":{"datum":6e12}}},{"data":{"values":[{}]},"mark":{"type":"rect","filled":false},"encoding":{"x":{"datum":-1.1},"x2":{"datum":21.1},"y":{"datum":1},"y2":{"datum":1.1e8}}}]},
{"width":124,"height":75,"view":{"fill":"#f7e5d9","stroke":"#f7e5d9"},"layer":[{"transform":[{"filter":"datum.p=='C12'"}],"mark":{"type":"line","clip":true},"encoding":{"x":{"field":"t","type":"quantitative","scale":{"domain":[-1.1,21.1],"nice":false},"axis":{"title":null,"gridColor":{"condition":{"test":"datum.value%10===0","value":"#a8a8a8"},"value":"#f5f5f5"}}},"y":{"field":"v","type":"quantitative","scale":{"type":"log","domain":[1,1.1e8],"nice":false},"axis":{"values":[1,1e5],"labels":false,"title":null}},"color":{"field":"s","type":"nominal","scale":{"domain":[0,1,2,3,4,5,6,7,8,9]}}}},{"data":{"values":[{}]},"mark":"rule","encoding":{"x":{"datum":12},"y":{"datum":1},"y2":{"datum":6e12}}},{"data":{"values":[{}]},"mark":{"type":"rect","filled":false},"encoding":{"x":{"datum":-1.1},"x2":{"datum":21.1},"y":{"datum":1},"y2":{"datum":1.1e8}}}]},
{"width":124,"height":75,"view":{"fill":"#e6e8e3","stroke":"#e6e8e3"},"layer":[{"transform":[{"filter":"datum.p=='M6'"}],"mark":{"type":"line","clip":true},"encoding":{"x":{"field":"t","type":"quantitative","scale":{"domain":[-1.1,21.1],"nice":false},"axis":{"title":null,"gridColor":{"condition":{"test":"datum.value%10===0","value":"#a8a8a8"},"value":"#f5f5f5"}}},"y":{"field":"v","type":"quantitative","scale":{"type":"log","domain":[1,900],"nice":false},"axis":{"values":[1,100],"labelExpr":"datum.value>1?'10²':'10⁰'","title":"Immune"}},"color":{"field":"s","type":"nominal","scale":{"domain":[0,1,2,3,4,5,6,7,8,9]}}}},{"data":{"values":[{}]},"mark":"rule","encoding":{"x":{"datum":6},"y":{"datum":1},"y2":{"datum":5e4}}},{"data":{"values":[{}]},"mark":{"type":"rect","filled":false},"encoding":{"x":{"datum":-1.1},"x2":{"datum":21.1},"y":{"datum":1},"y2":{"datum":900}}}]},
{"width":124,"height":75,"view":{"fill":"#f4f4f3","stroke":"#f4f4f3"},"layer":[{"transform":[{"filter":"datum.p=='M8'"}],"mark":{"type":"line","clip":true},"encoding":{"x":{"field":"t","type":"quantitative","scale":{"domain":[-1.1,21.1],"nice":false},"axis":{"title":null,"gridColor":{"condition":{"test":"datum.value%10===0","value":"#a8a8a8"},"value":"#f5f5f5"}}},"y":{"field":"v","type":"quantitative","scale":{"type":"log","domain":[1,900],"nice":false},"axis":{"values":[1,100],"labels":false,"title":null}},"color":{"field":"s","type":"nominal","scale":{"domain":[0,1,2,3,4,5,6,7,8,9]}}}},{"data":{"values":[{}]},"mark":"rule","encoding":{"x":{"datum":8},"y":{"datum":1},"y2":{"datum":5e4}}},{"data":{"values":[{}]},"mark":{"type":"rect","filled":false},"encoding":{"x":{"datum":-1.1},"x2":{"datum":21.1},"y":{"datum":1},"y2":{"datum":900}}}]},
{"width":124,"height":75,"view":{"fill":"#f7e5d9","stroke":"#f7e5d9"},"layer":[{"transform":[{"filter":"datum.p=='M10'"}],"mark":{"type":"line","clip":true},"encoding":{"x":{"field":"t","type":"quantitative","scale":{"domain":[-1.1,21.1],"nice":false},"axis":{"title":null,"gridColor":{"condition":{"test":"datum.value%10===0","value":"#a8a8a8"},"value":"#f5f5f5"}}},"y":{"field":"v","type":"quantitative","scale":{"type":"log","domain":[1,900],"nice":false},"axis":{"values":[1,100],"labels":false,"title":null}},"color":{"field":"s","type":"nominal","scale":{"domain":[0,1,2,3,4,5,6,7,8,9]}}}},{"data":{"values":[{}]},"mark":"rule","encoding":{"x":{"datum":10},"y":{"datum":1},"y2":{"datum":5e4}}},{"data":{"values":[{}]},"mark":{"type":"rect","filled":false},"encoding":{"x":{"datum":-1.1},"x2":{"datum":21.1},"y":{"datum":1},"y2":{"datum":900}}}]},
{"width":124,"height":75,"view":{"fill":"#f7e5d9","stroke":"#f7e5d9"},"layer":[{"transform":[{"filter":"datum.p=='M12'"}],"mark":{"type":"line","clip":true},"encoding":{"x":{"field":"t","type":"quantitative","scale":{"domain":[-1.1,21.1],"nice":false},"axis":{"title":null,"gridColor":{"condition":{"test":"datum.value%10===0","value":"#a8a8a8"},"value":"#f5f5f5"}}},"y":{"field":"v","type":"quantitative","scale":{"type":"log","domain":[1,900],"nice":false},"axis":{"values":[1,100],"labels":false,"title":null}},"color":{"field":"s","type":"nominal","scale":{"domain":[0,1,2,3,4,5,6,7,8,9]}}}},{"data":{"values":[{}]},"mark":"rule","encoding":{"x":{"datum":12},"y":{"datum":1},"y2":{"datum":5e4}}},{"data":{"values":[{}]},"mark":{"type":"rect","filled":false},"encoding":{"x":{"datum":-1.1},"x2":{"datum":21.1},"y":{"datum":1},"y2":{"datum":900}}}]},
{"width":124,"height":75,"view":{"fill":"#e6e8e3","stroke":"#e6e8e3"},"layer":[{"transform":[{"filter":"datum.p=='S6'"}],"mark":{"type":"line","clip":true},"encoding":{"x":{"field":"t","type":"quantitative","scale":{"domain":[-1.1,21.1],"nice":false},"axis":{"title":null,"labels":true,"labelExpr":"datum.value%10?'':datum.label","gridColor":{"condition":{"test":"datum.value%10===0","value":"#a8a8a8"},"value":"#f5f5f5"}}},"y":{"field":"v","type":"quantitative","scale":{"domain":[-46,250],"nice":false,"zero":false},"axis":{"values":[0,250],"title":"Immune signal"}},"color":{"field":"s","type":"nominal","scale":{"domain":[0,1,2,3,4,5,6,7,8,9]}}}},{"data":{"values":[{}]},"mark":"rule","encoding":{"x":{"datum":6},"y":{"datum":-46},"y2":{"datum":425}}},{"data":{"values":[{}]},"mark":{"type":"rect","filled":false},"encoding":{"x":{"datum":-1.1},"x2":{"datum":21.1},"y":{"datum":-46},"y2":{"datum":250}}}]},
{"width":124,"height":75,"view":{"fill":"#f4f4f3","stroke":"#f4f4f3"},"layer":[{"transform":[{"filter":"datum.p=='S8'"}],"mark":{"type":"line","clip":true},"encoding":{"x":{"field":"t","type":"quantitative","scale":{"domain":[-1.1,21.1],"nice":false},"axis":{"labels":true,"labelExpr":"datum.value%10?'':datum.label","gridColor":{"condition":{"test":"datum.value%10===0","value":"#a8a8a8"},"value":"#f5f5f5"},"title":"Simulation time (Minutes) × 10³","titleX":140,"titleY":48,"titleAlign":"center","titleBaseline":"top","titleFont":"Open Sans","titleFontSize":22}},"y":{"field":"v","type":"quantitative","scale":{"domain":[-46,250],"nice":false,"zero":false},"axis":{"values":[0,250],"labels":false,"title":null}},"color":{"field":"s","type":"nominal","scale":{"domain":[0,1,2,3,4,5,6,7,8,9]}}}},{"data":{"values":[{}]},"mark":"rule","encoding":{"x":{"datum":8},"y":{"datum":-46},"y2":{"datum":425}}},{"data":{"values":[{}]},"mark":{"type":"rect","filled":false},"encoding":{"x":{"datum":-1.1},"x2":{"datum":21.1},"y":{"datum":-46},"y2":{"datum":250}}}]},
{"width":124,"height":75,"view":{"fill":"#f7e5d9","stroke":"#f7e5d9"},"layer":[{"transform":[{"filter":"datum.p=='S10'"}],"mark":{"type":"line","clip":true},"encoding":{"x":{"field":"t","type":"quantitative","scale":{"domain":[-1.1,21.1],"nice":false},"axis":{"title":null,"labels":true,"labelExpr":"datum.value%10?'':datum.label","gridColor":{"condition":{"test":"datum.value%10===0","value":"#a8a8a8"},"value":"#f5f5f5"}}},"y":{"field":"v","type":"quantitative","scale":{"domain":[-46,250],"nice":false,"zero":false},"axis":{"values":[0,250],"labels":false,"title":null}},"color":{"field":"s","type":"nominal","scale":{"domain":[0,1,2,3,4,5,6,7,8,9]}}}},{"data":{"values":[{}]},"mark":"rule","encoding":{"x":{"datum":10},"y":{"datum":-46},"y2":{"datum":425}}},{"data":{"values":[{}]},"mark":{"type":"rect","filled":false},"encoding":{"x":{"datum":-1.1},"x2":{"datum":21.1},"y":{"datum":-46},"y2":{"datum":250}}}]},
{"width":124,"height":75,"view":{"fill":"#f7e5d9","stroke":"#f7e5d9"},"layer":[{"transform":[{"filter":"datum.p=='S12'"}],"mark":{"type":"line","clip":true},"encoding":{"x":{"field":"t","type":"quantitative","scale":{"domain":[-1.1,21.1],"nice":false},"axis":{"title":null,"labels":true,"labelExpr":"datum.value%10?'':datum.label","gridColor":{"condition":{"test":"datum.value%10===0","value":"#a8a8a8"},"value":"#f5f5f5"}}},"y":{"field":"v","type":"quantitative","scale":{"domain":[-46,250],"nice":false,"zero":false},"axis":{"values":[0,250],"labels":false,"title":null}},"color":{"field":"s","type":"nominal","scale":{"domain":[0,1,2,3,4,5,6,7,8,9]}}}},{"data":{"values":[{}]},"mark":"rule","encoding":{"x":{"datum":12},"y":{"datum":-46},"y2":{"datum":425}}},{"data":{"values":[{}]},"mark":{"type":"rect","filled":false},"encoding":{"x":{"datum":-1.1},"x2":{"datum":21.1},"y":{"datum":-46},"y2":{"datum":250}}}]}
],
"config": {
"font": "DejaVu Sans",
"view": {"strokeWidth": 45},
"legend": {"disable": true},
"range": {"category": ["#1f77b4","#ff7f0e","#2ca02c","#d62728","#9467bd","#8c564b","#e377c2","#7f7f7f","#bcbd22","#17becf"]},
"line": {"strokeWidth": 5, "strokeJoin": "round", "strokeCap": "round"},
"rule": {"strokeDash": [9, 5], "strokeWidth": 2.5, "color": "#111111"},
"rect": {"color": "#2b2b2b", "strokeWidth": 2},
"axis": {"domain": false, "labelFont": "DejaVu Sans", "labelColor": "#262626", "tickColor": "#262626", "tickWidth": 1.6, "gridColor": "#a8a8a8", "gridWidth": 1.2, "labelOverlap": false, "labelFlush": false, "titleFont": "Open Sans", "titleFontSize": 23, "titleFontWeight": "normal", "titleColor": "#262626"},
"axisX": {"tickCount": 11, "tickSize": 7, "labels": false, "labelFontSize": 20, "labelPadding": 2},
"axisY": {"tickSize": 10, "labelFontSize": 26, "labelPadding": 16, "titleAngle": 0, "titleAlign": "left", "titleBaseline": "middle", "titleX": -323, "titleY": 46},
"title": {"font": "DejaVu Sans", "fontSize": 21, "fontWeight": "normal", "color": "#262626", "frame": "group", "baseline": "bottom", "offset": 12}
}
}
